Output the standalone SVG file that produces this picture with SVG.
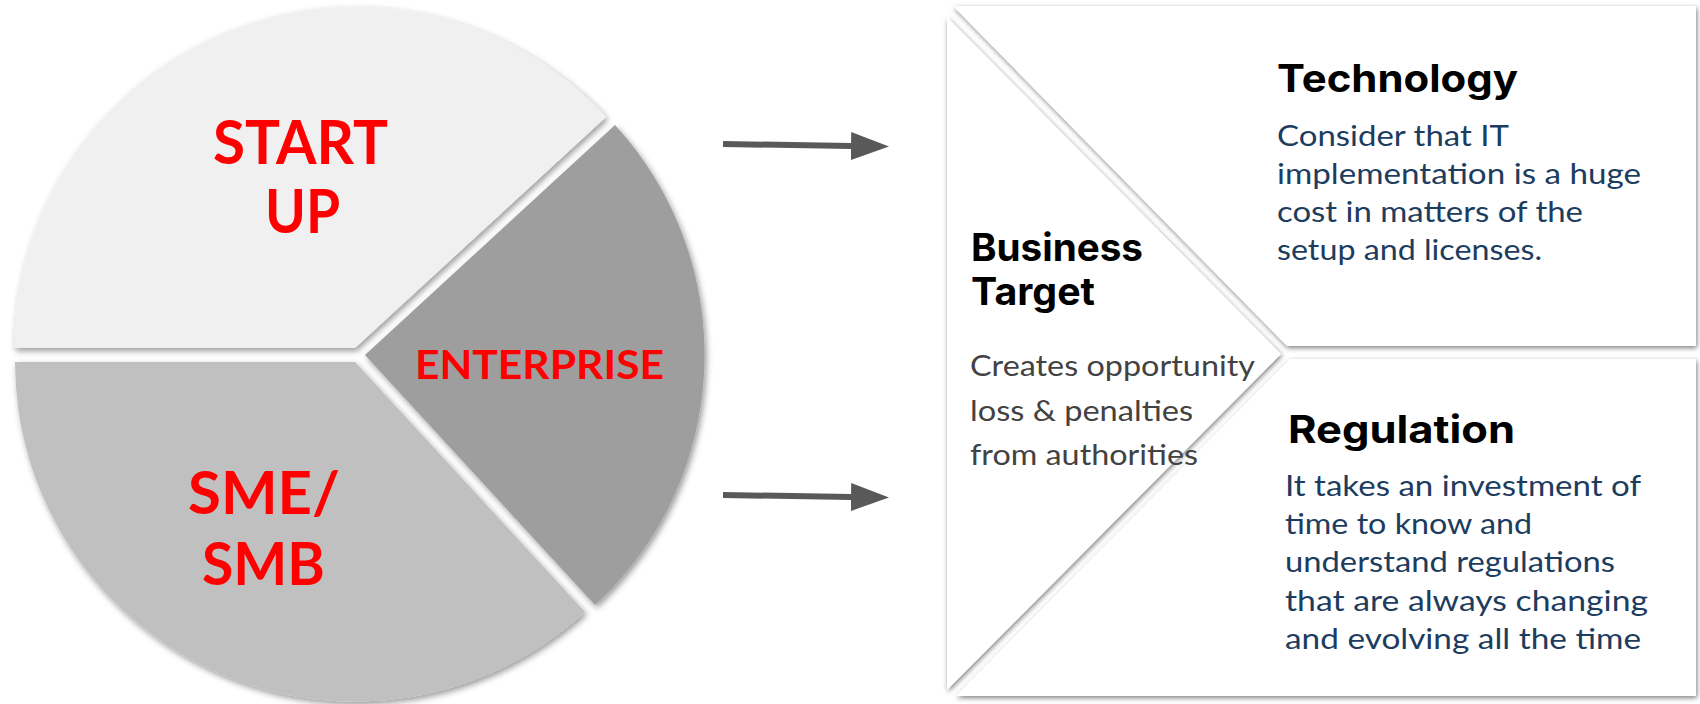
<svg xmlns="http://www.w3.org/2000/svg" width="1700" height="704" viewBox="0 0 1700 704">
  <defs>
    <filter id="pieShadow" x="-10%" y="-10%" width="120%" height="120%">
      <feDropShadow dx="2" dy="3" stdDeviation="3" flood-color="#000" flood-opacity="0.4"/>
    </filter>
    <filter id="panelShadow" x="-10%" y="-10%" width="120%" height="120%">
      <feDropShadow dx="1" dy="2" stdDeviation="2.5" flood-color="#000" flood-opacity="0.5"/>
    </filter>
    <marker id="arrowHead" viewBox="0 0 38 28" refX="0" refY="14" markerWidth="38" markerHeight="28" markerUnits="userSpaceOnUse" orient="auto">
      <path d="M0,0 L38,14 L0,28 Z" fill="#595959"/>
    </marker>
  </defs>
  <style>
    .pie-label { font-family: Lato, "Liberation Sans", sans-serif; font-weight: 700; fill: #ff0000; text-anchor: middle; }
    .heading { font-family: Inter, "Liberation Sans", sans-serif; font-weight: 700; fill: #000000; font-size: 38px; }
    .body-navy { font-family: Lato, "Liberation Sans", sans-serif; font-size: 28px; fill: #1d3c5e; }
    .body-gray { font-family: Lato, "Liberation Sans", sans-serif; font-size: 28px; fill: #424242; }
    .panel { fill: #ffffff; filter: url(#panelShadow); }
    .slice { filter: url(#pieShadow); }
    .arrow { stroke: #595959; stroke-width: 6; fill: none; marker-end: url(#arrowHead); }
  </style>
  <rect width="1700" height="704" fill="#ffffff"/>

  <g id="startup">
    <path class="slice" d="M355,348 L14,348 A341,341 0 0 1 606,117 Z" fill="#f0f0f0"/>
    <text class="pie-label" x="300.5" y="164" font-size="61" textLength="175" lengthAdjust="spacingAndGlyphs">START</text>
    <text class="pie-label" x="302.5" y="233" font-size="61" textLength="75" lengthAdjust="spacingAndGlyphs">UP</text>
  </g>

  <g id="enterprise">
    <path class="slice" d="M365,355 L615,125 A340,340 0 0 1 595,605 Z" fill="#9e9e9e"/>
    <text class="pie-label" x="539.5" y="379" font-size="41" textLength="249" lengthAdjust="spacingAndGlyphs">ENTERPRISE</text>
  </g>

  <g id="sme-smb">
    <path class="slice" d="M355,362 L585,612 A340,340 0 0 1 15,362 Z" fill="#c0c0c0"/>
    <text class="pie-label" x="264" y="514" font-size="60" textLength="152" lengthAdjust="spacingAndGlyphs">SME/</text>
    <text class="pie-label" x="263.5" y="585" font-size="60" textLength="123" lengthAdjust="spacingAndGlyphs">SMB</text>
  </g>

  <g id="connectors">
    <line class="arrow" x1="723" y1="144" x2="851" y2="146"/>
    <line class="arrow" x1="723" y1="495" x2="851" y2="497"/>
  </g>

  <g id="technology">
    <polygon class="panel" points="953,6 1696,6 1696,346 1287,346"/>
    <text class="heading" x="1277" y="92" textLength="241" lengthAdjust="spacingAndGlyphs">Technology</text>
    <text class="body-navy" x="1277" y="146" textLength="232" lengthAdjust="spacingAndGlyphs">Consider that IT</text>
    <text class="body-navy" x="1277" y="184" textLength="364" lengthAdjust="spacingAndGlyphs">implementation is a huge</text>
    <text class="body-navy" x="1277" y="222" textLength="306" lengthAdjust="spacingAndGlyphs">cost in matters of the</text>
    <text class="body-navy" x="1277" y="260" textLength="265" lengthAdjust="spacingAndGlyphs">setup and licenses.</text>
  </g>

  <g id="regulation">
    <polygon class="panel" points="1290,359 1696,359 1696,696 956,696"/>
    <text class="heading" x="1288" y="443" textLength="227" lengthAdjust="spacingAndGlyphs">Regulation</text>
    <text class="body-navy" x="1285" y="496" textLength="356" lengthAdjust="spacingAndGlyphs">It takes an investment of</text>
    <text class="body-navy" x="1285" y="534" textLength="247" lengthAdjust="spacingAndGlyphs">time to know and</text>
    <text class="body-navy" x="1285" y="572" textLength="330" lengthAdjust="spacingAndGlyphs">understand regulations</text>
    <text class="body-navy" x="1285" y="611" textLength="363" lengthAdjust="spacingAndGlyphs">that are always changing</text>
    <text class="body-navy" x="1285" y="649" textLength="356" lengthAdjust="spacingAndGlyphs">and evolving all the time</text>
  </g>

  <g id="business-target">
    <polygon class="panel" points="947,17 1281,354 947,690"/>
    <text class="heading" x="971" y="261" textLength="172" lengthAdjust="spacingAndGlyphs">Business</text>
    <text class="heading" x="971" y="305" textLength="124" lengthAdjust="spacingAndGlyphs">Target</text>
    <text class="body-gray" x="970" y="376" textLength="285" lengthAdjust="spacingAndGlyphs">Creates opportunity</text>
    <text class="body-gray" x="970" y="421" textLength="223" lengthAdjust="spacingAndGlyphs">loss &amp; penalties</text>
    <text class="body-gray" x="970" y="465" textLength="228" lengthAdjust="spacingAndGlyphs">from authorities</text>
  </g>
</svg>
